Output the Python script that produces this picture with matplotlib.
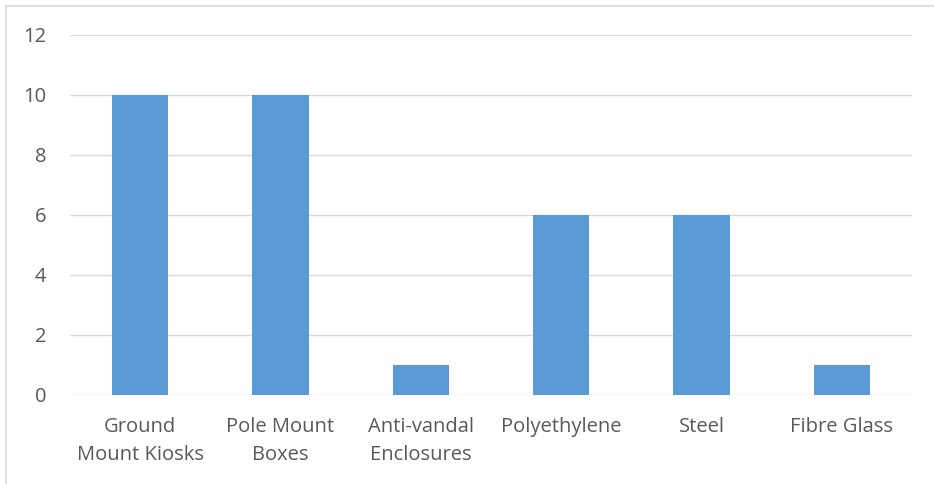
import matplotlib
matplotlib.use("Agg")
import matplotlib.pyplot as plt
from matplotlib.patches import Rectangle

categories = ["Ground\nMount Kiosks", "Pole Mount\nBoxes", "Anti-vandal\nEnclosures",
              "Polyethylene", "Steel", "Fibre Glass"]
values = [10, 10, 1, 6, 6, 1]
yticks = [0, 2, 4, 6, 8, 10, 12]

plt.rcParams['font.family'] = ['Open Sans', 'DejaVu Sans']
fig = plt.figure(figsize=(9.34, 4.84), dpi=100)
ax = fig.add_axes([70/934, 1 - 395/484, (912-70)/934, (395-35)/484])

x = list(range(len(categories)))
ax.bar(x, values, width=0.4, color="#5B9BD5", zorder=3)
ax.set_xlim(-0.5, len(categories) - 0.5)
ax.set_ylim(0, 12)
ax.set_yticks(yticks)
ax.set_yticklabels([str(v) for v in yticks], fontsize=14.5, color="#595959")
ax.set_xticks(x)
ax.set_xticklabels(categories, fontsize=14.5, color="#595959", linespacing=1.55)
ax.grid(axis='y', color="#D9D9D9", linewidth=1, zorder=0)
for s in ax.spines.values():
    s.set_visible(False)
ax.tick_params(axis='both', length=0)
ax.tick_params(axis='x', pad=16)
ax.tick_params(axis='y', pad=17)

# outer border (top and left visible)
fig.add_artist(Rectangle((5.5/934, -0.1), 1.2, 1.1 - 5.5/484, transform=fig.transFigure,
                         fill=False, edgecolor="#D9D9D9", linewidth=1.2))

fig.savefig("out.png", dpi=100)
